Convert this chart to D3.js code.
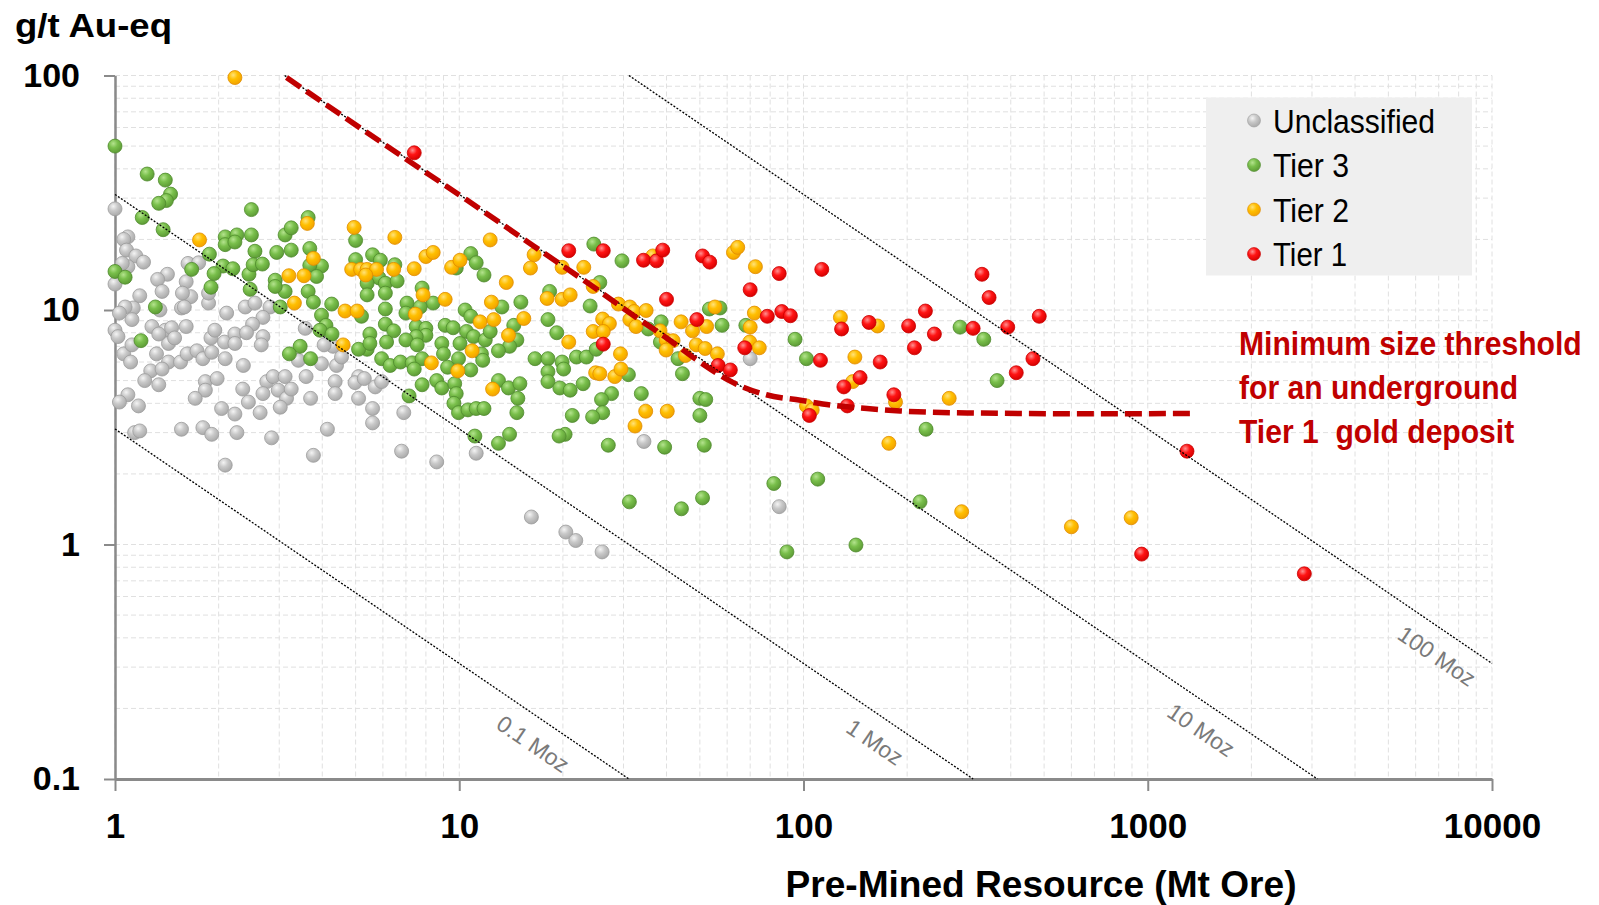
<!DOCTYPE html>
<html>
<head>
<meta charset="utf-8">
<script src="https://cdn.jsdelivr.net/npm/d3@7"></script>
<style>
  body { margin: 0; background: #fff; }
  svg { display: block; font-family: Arial, "Liberation Sans", sans-serif; }
</style>
</head>
<body>
<div id="chart"></div>
<script>
// [Mt ore, g/t Au-eq]
const unclassified = [
  [1.0,27],[1.09,20.5],[1.06,20],[1.08,18],[1.15,17],[1.21,16],[1.09,15.3],[1.05,15.8],[1.0,12.9],[1.42,14.2],
  [1.33,13.5],[1.37,12],[1.18,11.5],[1.61,13.2],[1.66,11.4],[1.57,11.8],[1.63,15.8],[1.75,15.9],[1.87,10.7],[1.87,11.8],
  [1.13,10.2],[1.07,10.3],[1.03,9.7],[1.12,9.1],[1.35,10],[1.56,10.2],[1.59,10.3],[2.11,9.7],[2.39,10.3],[2.55,10.7],
  [2.82,10.3],[2.69,9.3],[2.51,8.7],[1.0,8.2],[1.02,7.7],[1.28,8.5],[1.40,8.2],[1.46,8.4],[1.61,8.5],[1.43,7.2],
  [1.49,7.6],[1.34,7.9],[1.9,7.6],[1.95,8.2],[2.08,7.3],[2.23,7.9],[2.23,7.2],[2.41,8.0],[2.69,7.7],[2.66,7.1],
  [1.06,6.5],[1.12,7.1],[1.11,6.0],[1.32,6.5],[1.43,6.0],[1.55,6.0],[1.62,6.5],[1.73,6.7],[1.80,6.2],[1.91,6.6],
  [2.09,6.2],[2.36,5.8],[1.27,5.5],[1.22,5.0],[1.34,4.8],[1.37,5.6],[1.83,4.95],[1.98,5.1],[1.83,4.55],[1.71,4.2],
  [2.35,4.6],[2.44,4.05],[2.04,3.8],[2.23,3.6],[2.76,4.95],[2.88,5.2],[3.12,5.2],[2.69,4.4],[2.98,4.55],[3.15,4.2],
  [3.25,4.6],[3.02,3.85],[2.64,3.65],[3.59,5.2],[3.7,4.2],[3.41,6.1],[3.98,5.9],[4.4,5.8],[4.3,7.0],[4.05,7.1],
  [3.57,8.35],[1.09,4.35],[1.03,4.05],[1.17,3.9],[1.14,3.0],[1.18,3.05],[1.56,3.1],[1.80,3.15],[1.91,2.95],[2.26,3.0],
  [2.85,2.85],[4.14,3.1],[4.36,4.95],[4.36,4.4],[5.1,5.2],[4.55,6.3],[4.98,4.9],[5.3,5.1],[5.7,4.7],[5.95,4.95],
  [5.1,4.2],[5.6,3.8],[5.6,3.3],[6.9,3.65],[2.09,2.18],[3.77,2.4],[6.8,2.5],[8.6,2.25],[11.2,2.45],[16.2,1.31],
  [20.4,1.13],[21.8,1.04],[26,0.93],[34.4,2.75],[70,6.2],[85,1.45]
];
const tier3 = [
  [1.0,50],[1.24,38],[1.40,35.8],[1.45,31.2],[1.41,29.3],[1.34,28.5],[1.20,24.8],[1.38,22],[2.49,26.8],[1.88,17.3],
  [2.09,20.5],[2.26,20.9],[2.09,19],[2.23,19.5],[2.49,20.9],[2.55,17.8],[3.12,20.9],[3.25,22.4],[3.64,24.8],[2.95,17.6],
  [3.25,18],[3.68,18.3],[3.98,15.4],[3.68,15.5],[3.85,13.9],[3.12,12],[2.92,13.4],[2.92,12.6],[3.64,12],[3.77,10.8],
  [4.26,10.6],[3.02,10.3],[3.98,9.5],[4.1,8.6],[3.94,8.2],[4.27,7.9],[3.45,7.0],[3.21,6.5],[3.7,6.2],[2.06,15.4],
  [2.2,15],[1.94,14.3],[1.67,14.9],[2.45,14.2],[2.52,15.6],[2.68,15.7],[2.47,12.25],[1.9,12.5],[1.31,10.3],[1.0,14.6],
  [1.07,13.8],[1.19,7.4],[5.0,19.8],[5.6,17.2],[5.9,16.3],[5.0,16.4],[6.5,15.6],[9.8,15.1],[10.8,17.4],[11.2,15.9],
  [11.8,14.1],[5.85,13.7],[6.1,13],[6.6,13.3],[5.4,13],[5.4,11.6],[6.1,11.8],[6.1,10.1],[7.8,12.4],[8.4,10.7],
  [7.05,10.7],[7.7,10.3],[7.0,9.7],[13.3,10.3],[15.1,10.8],[18.3,12],[10.4,10],[10.8,9.4],[9.1,8.6],[9.6,8.4],
  [5.2,9.4],[6.1,8.7],[6.45,8.15],[5.5,7.9],[7.5,8.5],[8.0,8.35],[8.0,7.8],[7.5,7.7],[7.0,7.45],[7.55,7.1],
  [6.15,7.3],[5.4,6.8],[5.1,6.8],[5.5,7.2],[8.9,7.2],[9.0,6.5],[10.05,7.2],[10.5,8.1],[11.0,7.7],[11.9,7.45],
  [12.3,8.1],[14.4,8.6],[14.7,7.45],[14.0,7.0],[11.6,6.5],[11.7,6.1],[13.0,6.7],[5.95,6.2],[6.3,5.8],[6.75,6.0],
  [7.3,5.95],[7.8,6.2],[7.4,5.6],[9.25,5.7],[9.95,6.2],[10.8,5.55],[7.8,4.8],[8.6,5.0],[8.9,4.65],[9.7,4.85],
  [9.8,4.4],[13.0,5.0],[13.9,4.65],[15.0,4.85],[14.8,4.2],[7.15,4.3],[9.65,4.0],[9.95,3.65],[10.6,3.75],[11.2,3.8],
  [11.8,3.8],[14.7,3.65],[11.1,2.9],[14.0,2.95],[13.0,2.7],[16.6,6.2],[18.1,6.2],[19.9,6.0],[20.1,5.6],[18.1,5.45],
  [18.1,4.95],[19.6,4.65],[21.0,4.55],[22.9,4.85],[21.9,6.3],[23.4,6.3],[18.1,9.1],[19.2,8.0],[21.3,3.55],[20.3,2.95],
  [19.5,2.9],[24.6,19.1],[29.7,16.2],[25.6,13.1],[35.4,8.3],[38.6,8.9],[53.3,10.1],[58,8.6],[68,8.6],[94.5,7.5],
  [38.4,7.3],[43.2,6.2],[31.0,5.3],[44.5,5.35],[33.8,4.4],[50,4.2],[52,4.15],[50,3.55],[27.7,4.4],[25.9,4.15],
  [26.1,3.65],[24.4,3.5],[27.1,2.65],[39.5,2.6],[51.5,2.65],[31.2,1.52],[44.2,1.42],[50.9,1.58],[82,1.82],[110,1.9],
  [89.5,0.93],[142,0.995],[218,1.52],[227,3.1],[102,6.2],[285,8.45],[334,7.5],[365,5.0],[57.2,10.2],[24,10.4],[25,6.8]
];
const tier2 = [
  [2.23,98],[1.76,19.9],[3.62,23.4],[3.77,16.6],[3.2,14],[3.54,14],[3.32,10.7],[4.66,9.9],[5.05,9.9],[4.6,7.1],
  [4.95,22.5],[6.5,20.4],[12.3,19.9],[4.87,14.9],[5.17,14.9],[5.4,14.9],[5.75,14.9],[6.45,14.9],[7.4,15],[5.35,14.1],
  [8.0,16.9],[8.4,17.6],[9.5,15.2],[10.05,16.3],[16.5,17.2],[16.1,15.1],[19.9,15.2],[23,15.2],[13.7,13.1],[7.85,11.6],
  [9.1,11.1],[7.45,9.6],[12.4,10.8],[15.4,9.2],[18,11.2],[19.9,11.1],[21,11.6],[11.5,8.9],[12.6,9.1],[13.9,7.8],
  [10.9,6.7],[8.3,5.95],[9.9,5.5],[12.5,4.6],[20.8,7.3],[24.5,12.6],[29,10.6],[31.3,10.3],[32.2,9.85],[34.9,9.95],
  [31.3,9.1],[32.6,8.5],[38.3,8.15],[44.1,8.9],[47.6,8.15],[52.3,8.5],[55.3,10.3],[72,9.7],[70,8.45],[26.1,9.15],
  [27.3,8.75],[24.5,8.1],[26.2,8.1],[29.4,6.5],[39.9,7.45],[41.8,7.4],[39.9,6.75],[48.8,7.1],[51.8,6.85],[56.2,6.5],
  [45.4,6.4],[69.8,7.3],[74.4,6.9],[24.9,5.4],[25.6,5.35],[28.3,5.2],[29.5,5.6],[34.8,3.7],[40.2,3.7],[32.4,3.2],
  [36.5,17],[62.6,17.6],[64.4,18.5],[72.5,15.3],[128,9.3],[164,8.55],[141,6.3],[139,4.95],[185,4.05],[265,4.2],
  [102,3.9],[106,3.75],[177,2.7],[288,1.38],[600,1.19],[895,1.3]
];
const tier1 = [
  [7.4,46.8],[20.8,17.9],[26.2,17.9],[34.3,16.3],[37.4,16.2],[39,18],[50.9,17],[53.4,16],[85,14.3],[70,12.2],
  [40,11.1],[49,9.1],[78.5,9.4],[86.5,9.85],[91.6,9.45],[26.2,7.15],[67.5,6.9],[56.5,5.8],[61.3,5.55],[113,14.9],
  [330,14.2],[346,11.3],[226,9.9],[484,9.4],[155,8.85],[129,8.3],[202,8.55],[240,7.9],[210,6.9],[311,8.35],
  [392,8.45],[464,6.2],[415,5.4],[112,6.1],[167,6.0],[146,5.15],[131,4.7],[183,4.35],[134,3.9],[104,3.55],
  [1300,2.5],[960,0.91],[2850,0.75]
];
// minimum size threshold curve
const threshold = [
  [3.15,98],[6.7,46],[10.5,29.5],[16.4,18.8],[25.6,12],[32,9.5],[40,7.6],[50,6.0],[62.5,4.9],
  [78,4.35],[98,4.12],[122,3.92],[153,3.8],[191,3.71],[298,3.64],[727,3.61],[1360,3.62]
];
const mozLevels = [0.1, 1, 10, 100];
const mozLabelAt = [18, 177, 1570, 7600];   // Mt where each label sits
const xTicks = [1, 10, 100, 1000, 10000];
const yTicks = [0.1, 1, 10, 100];
const seriesNames = ["Unclassified", "Tier 3", "Tier 2", "Tier 1"];
const seriesData = [unclassified, tier3, tier2, tier1];
const noteLines = ["Minimum size threshold", "for an underground", "Tier 1  gold deposit"];

const G_PER_OZ = 31.1035;

class TierChart {
  constructor(el) {
    this.el = el;
    this.width = 1599;
    this.height = 905;
    this.margin = { left: 115, right: 107, top: 75.5, bottom: 126 };
    this.colors = [
      { hi: "#f4f4f4", mid: "#c9c9c9", lo: "#a9a9a9", edge: "#9c9c9c" },
      { hi: "#b4e38e", mid: "#79bf4b", lo: "#5c9a35", edge: "#4f8a2d" },
      { hi: "#ffe27a", mid: "#ffbf00", lo: "#f2a200", edge: "#e08c00" },
      { hi: "#ff9090", mid: "#ff1414", lo: "#d60000", edge: "#c80000" },
    ];
    this.draw();
  }

  draw() {
    const that = this;
    const m = that.margin;
    that.svg = d3.select(`#${that.el}`).append("svg")
      .attr("width", that.width).attr("height", that.height);

    that.x = d3.scaleLog().domain([1, 10000]).range([m.left, that.width - m.right]);
    that.y = d3.scaleLog().domain([0.1, 100]).range([that.height - m.bottom, m.top]);

    const defs = that.svg.append("defs");
    that.colors.forEach((c, i) => {
      const g = defs.append("radialGradient").attr("id", `dot${i}`)
        .attr("cx", "38%").attr("cy", "32%").attr("r", "70%");
      g.append("stop").attr("offset", "0%").attr("stop-color", c.hi);
      g.append("stop").attr("offset", "45%").attr("stop-color", c.mid);
      g.append("stop").attr("offset", "100%").attr("stop-color", c.lo);
    });

    that.drawGrid();
    that.drawAxes();
    that.drawPoints();
    that.drawMozLines();
    that.drawThreshold();
    that.drawLegend();
    that.drawTexts();
  }

  drawGrid() {
    const that = this;
    const gx = [], gy = [];
    for (let d = 1; d < 10000; d *= 10) for (let k = 1; k < 10; k++) gx.push(d * k);
    gx.push(10000);
    [0.1, 1, 10].forEach((d) => { for (let k = 1; k < 10; k++) gy.push(d * k); });
    gy.push(100);

    const grid = that.svg.append("g")
      .attr("stroke", "#e0e0e0").attr("stroke-width", 1).attr("stroke-dasharray", "5,3");
    grid.selectAll("line.gx").data(gx).join("line").attr("class", "gx")
      .attr("x1", (d) => that.x(d)).attr("x2", (d) => that.x(d))
      .attr("y1", that.y(100)).attr("y2", that.y(0.1));
    grid.selectAll("line.gy").data(gy).join("line").attr("class", "gy")
      .attr("y1", (d) => that.y(d)).attr("y2", (d) => that.y(d))
      .attr("x1", that.x(1)).attr("x2", that.x(10000));
  }

  drawAxes() {
    const that = this;
    const fmt = d3.format("~g");
    const ya = that.svg.append("g").attr("transform", `translate(${that.x(1)},0)`)
      .call(d3.axisLeft(that.y).tickValues(yTicks).tickFormat(fmt)
        .tickSize(11).tickSizeOuter(0).tickPadding(24));
    const xa = that.svg.append("g").attr("transform", `translate(0,${that.y(0.1)})`)
      .call(d3.axisBottom(that.x).tickValues(xTicks).tickFormat(fmt)
        .tickSize(12).tickSizeOuter(0).tickPadding(22));

    ya.select(".domain").attr("stroke", "#8a8a8a").attr("stroke-width", 2.5);
    xa.select(".domain").attr("stroke", "#8a8a8a").attr("stroke-width", 3);
    [ya, xa].forEach((a) => {
      a.selectAll(".tick line").attr("stroke", "#8a8a8a").attr("stroke-width", 2);
      a.selectAll(".tick text").attr("fill", "#000")
        .style("font-family", "Arial, 'Liberation Sans', sans-serif").style("font-weight", "bold");
    });
    ya.selectAll(".tick text").style("font-size", "34px");
    xa.selectAll(".tick text").style("font-size", "35px");
  }

  drawPoints() {
    const that = this;
    seriesData.forEach((data, i) => {
      that.svg.append("g").selectAll("circle").data(data).join("circle")
        .attr("cx", (d) => that.x(d[0]))
        .attr("cy", (d) => that.y(d[1]))
        .attr("r", 7)
        .attr("fill", `url(#dot${i})`)
        .attr("stroke", that.colors[i].edge)
        .attr("stroke-width", 0.8);
    });
  }

  drawMozLines() {
    const that = this;
    const g = that.svg.append("g");
    mozLevels.forEach((moz, i) => {
      const c = moz * G_PER_OZ; // Mt * g/t
      const x0 = Math.max(1, c / 100), x1 = Math.min(10000, c / 0.1);
      const p0 = [that.x(x0), that.y(c / x0)], p1 = [that.x(x1), that.y(c / x1)];
      g.append("line")
        .attr("x1", p0[0]).attr("y1", p0[1]).attr("x2", p1[0]).attr("y2", p1[1])
        .attr("stroke", "#000").attr("stroke-width", 1.3).attr("stroke-dasharray", "2,1.6");
      const ang = Math.atan2(p1[1] - p0[1], p1[0] - p0[0]) * 180 / Math.PI;
      const lx = mozLabelAt[i];
      g.append("text")
        .attr("transform", `translate(${that.x(lx)},${that.y(c / lx)}) rotate(${ang})`)
        .attr("y", 33)
        .attr("text-anchor", "middle")
        .attr("fill", "#7a7a7a")
        .style("font-size", "23px")
        .text(`${moz} Moz`);
    });
  }

  drawThreshold() {
    const that = this;
    const line = d3.line()
      .x((d) => that.x(d[0])).y((d) => that.y(d[1]))
      .curve(d3.curveMonotoneX);
    that.svg.append("path").datum(threshold)
      .attr("d", line)
      .attr("fill", "none")
      .attr("stroke", "#c00000")
      .attr("stroke-width", 5.5)
      .attr("stroke-dasharray", "17,7");
  }

  drawLegend() {
    const that = this;
    const lg = that.svg.append("g").attr("transform", "translate(1206,97.5)");
    lg.append("rect").attr("width", 266).attr("height", 178).attr("fill", "#efefef");
    const widths = [162, 76, 76, 74];
    seriesNames.forEach((name, i) => {
      const cy = 23 + i * 44.5;
      lg.append("circle").attr("cx", 48).attr("cy", cy).attr("r", 6.5)
        .attr("fill", `url(#dot${i})`).attr("stroke", that.colors[i].edge).attr("stroke-width", 0.6);
      lg.append("text").attr("x", 67).attr("y", cy + 12)
        .attr("textLength", widths[i]).attr("lengthAdjust", "spacingAndGlyphs")
        .style("font-size", "34px").attr("fill", "#000").text(name);
    });
  }

  drawTexts() {
    const that = this;
    that.svg.append("text").attr("x", 15).attr("y", 36.5)
      .attr("textLength", 157).attr("lengthAdjust", "spacingAndGlyphs")
      .style("font-size", "33px").style("font-weight", "bold").text("g/t Au-eq");

    that.svg.append("text").attr("x", 1041).attr("y", 897)
      .attr("text-anchor", "middle")
      .attr("textLength", 511).attr("lengthAdjust", "spacingAndGlyphs")
      .style("font-size", "36px").style("font-weight", "bold").text("Pre-Mined Resource (Mt Ore)");

    // condensed bold note: glyphs squeezed horizontally like the original
    that.svg.append("g").selectAll("text").data(noteLines).join("text")
      .attr("transform", (d, i) => `translate(1239,${355 + i * 44}) scale(0.885,1)`)
      .attr("fill", "#c00000")
      .style("font-size", "34px").style("font-weight", "bold")
      .style("white-space", "pre")
      .text((d) => d);
  }
}

new TierChart("chart");
</script>
</body>
</html>
